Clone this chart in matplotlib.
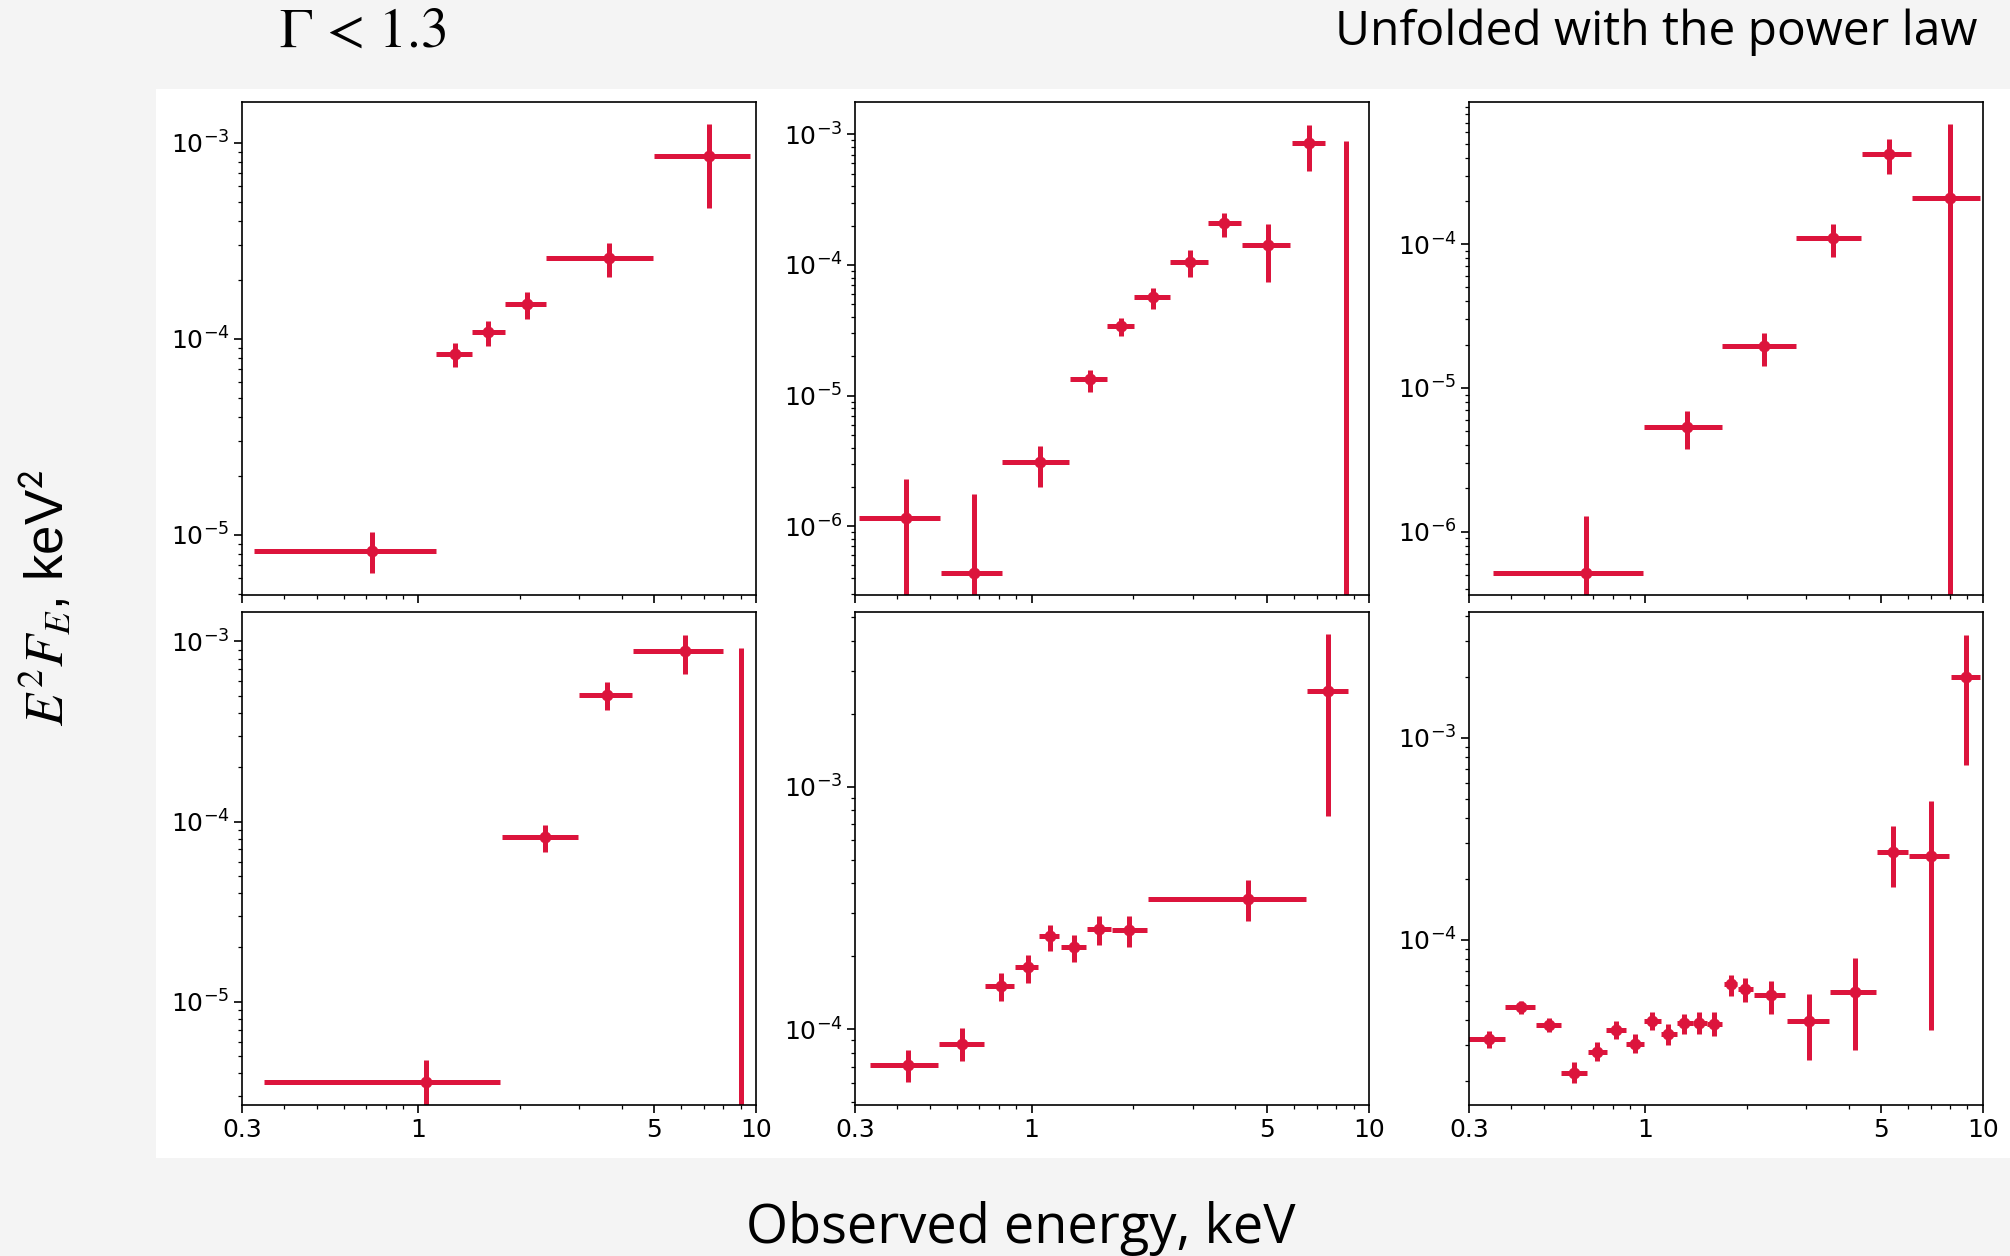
import numpy as np
import matplotlib
matplotlib.use("Agg")
import matplotlib.pyplot as plt
from matplotlib.patches import Rectangle
from matplotlib.ticker import NullFormatter

# couleurs / fond
rouge = "#dc143c"
fond = "#f4f4f4"

# panneau 1 (haut gauche)
p1_e = [0.727, 1.28, 1.61, 2.10, 3.67, 7.26]
p1_elo = [0.325, 1.13, 1.44, 1.81, 2.39, 4.98]
p1_ehi = [1.127, 1.44, 1.81, 2.39, 4.95, 9.6]
p1_f = [8.3e-6, 8.36e-5, 1.08e-4, 1.50e-4, 2.6e-4, 8.55e-4]
p1_flo = [6.38e-6, 7.2e-5, 9.2e-5, 1.27e-4, 2.07e-4, 4.63e-4]
p1_fhi = [1.03e-5, 9.5e-5, 1.24e-4, 1.74e-4, 3.07e-4, 1.24e-3]

# panneau 2 (haut milieu)
p2_e = [0.424, 0.676, 1.06, 1.49, 1.84, 2.29, 2.95, 3.73, 5.02, 6.64, 8.57]
p2_elo = [0.309, 0.540, 0.82, 1.30, 1.67, 2.01, 2.58, 3.34, 4.20, 5.91, 7.40]
p2_ehi = [0.537, 0.816, 1.29, 1.67, 2.01, 2.58, 3.34, 4.17, 5.85, 7.40, 9.9]
p2_f = [1.15e-6, 4.4e-7, 3.1e-6, 1.34e-5, 3.44e-5, 5.65e-5, 1.06e-4, 2.11e-4, 1.43e-4, 8.64e-4, 1.5e-7]
p2_flo = [1e-9, 1e-9, 1.98e-6, 1.06e-5, 2.85e-5, 4.6e-5, 8.13e-5, 1.63e-4, 7.36e-5, 5.25e-4, 1e-9]
p2_fhi = [2.31e-6, 1.75e-6, 4.11e-6, 1.57e-5, 3.95e-5, 6.67e-5, 1.31e-4, 2.52e-4, 2.05e-4, 1.19e-3, 8.9e-4]

# panneau 3 (haut droite)
p3_e = [0.665, 1.33, 2.25, 3.59, 5.27, 8.0]
p3_elo = [0.354, 0.99, 1.69, 2.80, 4.37, 6.18]
p3_ehi = [0.986, 1.69, 2.79, 4.35, 6.14, 9.78]
p3_f = [5.13e-7, 5.31e-6, 1.95e-5, 1.10e-4, 4.22e-4, 2.08e-4]
p3_flo = [1e-9, 3.76e-6, 1.43e-5, 8.17e-5, 3.10e-4, 1e-9]
p3_fhi = [1.29e-6, 6.87e-6, 2.40e-5, 1.39e-4, 5.37e-4, 6.83e-4]

# panneau 4 (bas gauche)
p4_e = [1.05, 2.37, 3.63, 6.18, 9.05]
p4_elo = [0.348, 1.77, 3.00, 4.32, 8.2]
p4_ehi = [1.75, 2.96, 4.29, 8.0, 9.9]
p4_f = [3.6e-6, 8.18e-5, 5.06e-4, 8.8e-4, 1.5e-6]
p4_flo = [1e-9, 6.75e-5, 4.18e-4, 6.62e-4, 1e-9]
p4_fhi = [4.72e-6, 9.6e-5, 5.93e-4, 1.09e-3, 9.16e-4]

# panneau 5 (bas milieu)
p5_e = [0.430, 0.623, 0.814, 0.977, 1.134, 1.334, 1.59, 1.95, 4.37, 7.55]
p5_elo = [0.333, 0.533, 0.728, 0.894, 1.054, 1.22, 1.46, 1.73, 2.21, 6.55]
p5_ehi = [0.530, 0.723, 0.889, 1.046, 1.206, 1.45, 1.72, 2.20, 6.50, 8.65]
p5_f = [7.1e-5, 8.71e-5, 1.51e-4, 1.80e-4, 2.41e-4, 2.17e-4, 2.58e-4, 2.56e-4, 3.43e-4, 2.48e-3]
p5_flo = [6.03e-5, 7.38e-5, 1.31e-4, 1.55e-4, 2.10e-4, 1.89e-4, 2.23e-4, 2.19e-4, 2.78e-4, 7.53e-4]
p5_fhi = [8.22e-5, 1.01e-4, 1.70e-4, 2.03e-4, 2.69e-4, 2.44e-4, 2.92e-4, 2.92e-4, 4.11e-4, 4.24e-3]

# panneau 6 (bas droite)
p6_e = [0.344, 0.429, 0.517, 0.615, 0.719, 0.818, 0.929, 1.047, 1.169, 1.305,
        1.44, 1.60, 1.79, 1.98, 2.35, 3.06, 4.17, 5.42, 7.00, 8.89]
p6_elo = [0.29, 0.385, 0.473, 0.561, 0.674, 0.766, 0.876, 0.991, 1.116, 1.24,
          1.38, 1.52, 1.71, 1.88, 2.10, 2.62, 3.52, 4.85, 6.05, 8.04]
p6_ehi = [0.384, 0.470, 0.561, 0.671, 0.769, 0.876, 0.991, 1.116, 1.24, 1.38,
          1.52, 1.69, 1.87, 2.09, 2.59, 3.49, 4.82, 6.0, 7.96, 9.8]
p6_f = [3.24e-5, 4.66e-5, 3.8e-5, 2.19e-5, 2.79e-5, 3.58e-5, 3.06e-5, 3.98e-5, 3.43e-5, 3.86e-5,
        3.86e-5, 3.83e-5, 6.01e-5, 5.71e-5, 5.3e-5, 3.98e-5, 5.5e-5, 2.72e-4, 2.59e-4, 2.0e-3]
p6_flo = [2.90e-5, 4.31e-5, 3.49e-5, 1.96e-5, 2.5e-5, 3.24e-5, 2.76e-5, 3.58e-5, 3.02e-5, 3.43e-5,
          3.4e-5, 3.33e-5, 5.24e-5, 4.93e-5, 4.31e-5, 2.54e-5, 2.85e-5, 1.82e-4, 3.56e-5, 7.31e-4]
p6_fhi = [3.54e-5, 4.98e-5, 4.1e-5, 2.47e-5, 3.1e-5, 3.95e-5, 3.4e-5, 4.39e-5, 3.82e-5, 4.31e-5,
          4.39e-5, 4.39e-5, 6.68e-5, 6.44e-5, 6.25e-5, 5.41e-5, 8.15e-5, 3.65e-4, 4.84e-4, 3.24e-3]

ylims = [(4.94e-6, 1.62e-3), (2.97e-7, 1.78e-3), (3.63e-7, 9.8e-4),
         (2.67e-6, 1.46e-3), (4.86e-5, 5.26e-3), (1.52e-5, 4.2e-3)]

xticks = [0.3, 1, 5, 10]
xticklabels = ["0.3", "1", "5", "10"]

panneaux = [
    (p1_e, p1_elo, p1_ehi, p1_f, p1_flo, p1_fhi),
    (p2_e, p2_elo, p2_ehi, p2_f, p2_flo, p2_fhi),
    (p3_e, p3_elo, p3_ehi, p3_f, p3_flo, p3_fhi),
    (p4_e, p4_elo, p4_ehi, p4_f, p4_flo, p4_fhi),
    (p5_e, p5_elo, p5_ehi, p5_f, p5_flo, p5_fhi),
    (p6_e, p6_elo, p6_ehi, p6_f, p6_flo, p6_fhi),
]

fig = plt.figure(figsize=(20.1, 12.56), dpi=100, facecolor=fond)

# cadre blanc derriere les graphes
fig.patches.append(Rectangle((0.0776, 0.078), 1 - 0.0776, 0.9291 - 0.078,
                             transform=fig.transFigure, facecolor="white",
                             edgecolor="none", zorder=-5))

lefts = [0.1204, 0.4254, 0.7308]
bottoms = [0.5263, 0.1202]
w, h = 0.2557, 0.3927

for k, (e, elo, ehi, f, flo, fhi) in enumerate(panneaux):
    ligne, col = divmod(k, 3)
    ax = fig.add_axes([lefts[col], bottoms[ligne], w, h])
    e = np.array(e); f = np.array(f)
    xerr = [e - np.array(elo), np.array(ehi) - e]
    yerr = [f - np.array(flo), np.array(fhi) - f]
    ax.errorbar(e, f, xerr=xerr, yerr=yerr, fmt="o", color=rouge,
                ms=7.5, elinewidth=3.6, capsize=0)
    ax.set_xscale("log")
    ax.set_yscale("log")
    ax.set_xlim(0.3, 10)
    ax.set_ylim(*ylims[k])
    ax.set_xticks(xticks)
    ax.set_xticklabels(xticklabels)
    ax.xaxis.set_minor_formatter(NullFormatter())
    ax.tick_params(which="major", labelsize=18, length=5.5, width=1.2)
    ax.tick_params(which="minor", length=3.2, width=0.9)
    if ligne == 0:
        ax.tick_params(labelbottom=False)
    for s in ax.spines.values():
        s.set_linewidth(1.2)

fig.text(0.1806, 0.9626, r"$\Gamma\,<\,1.3$", fontsize=40, ha="center",
         va="baseline", math_fontfamily="stix")
fig.text(0.984, 0.964, "Unfolded with the power law", fontsize=34.5,
         family="Open Sans", ha="right", va="baseline")
fig.text(0.508, 0.0105, "Observed energy, keV", fontsize=39,
         family="Open Sans", ha="center", va="baseline")
fig.text(0.023, 0.524, r"$E^2F_E$, keV$^{\mathsf{2}}$", fontsize=38,
         family="Liberation Sans", math_fontfamily="stix", rotation=90,
         ha="center", va="center")

fig.savefig("out.png", dpi=100, facecolor=fond)
